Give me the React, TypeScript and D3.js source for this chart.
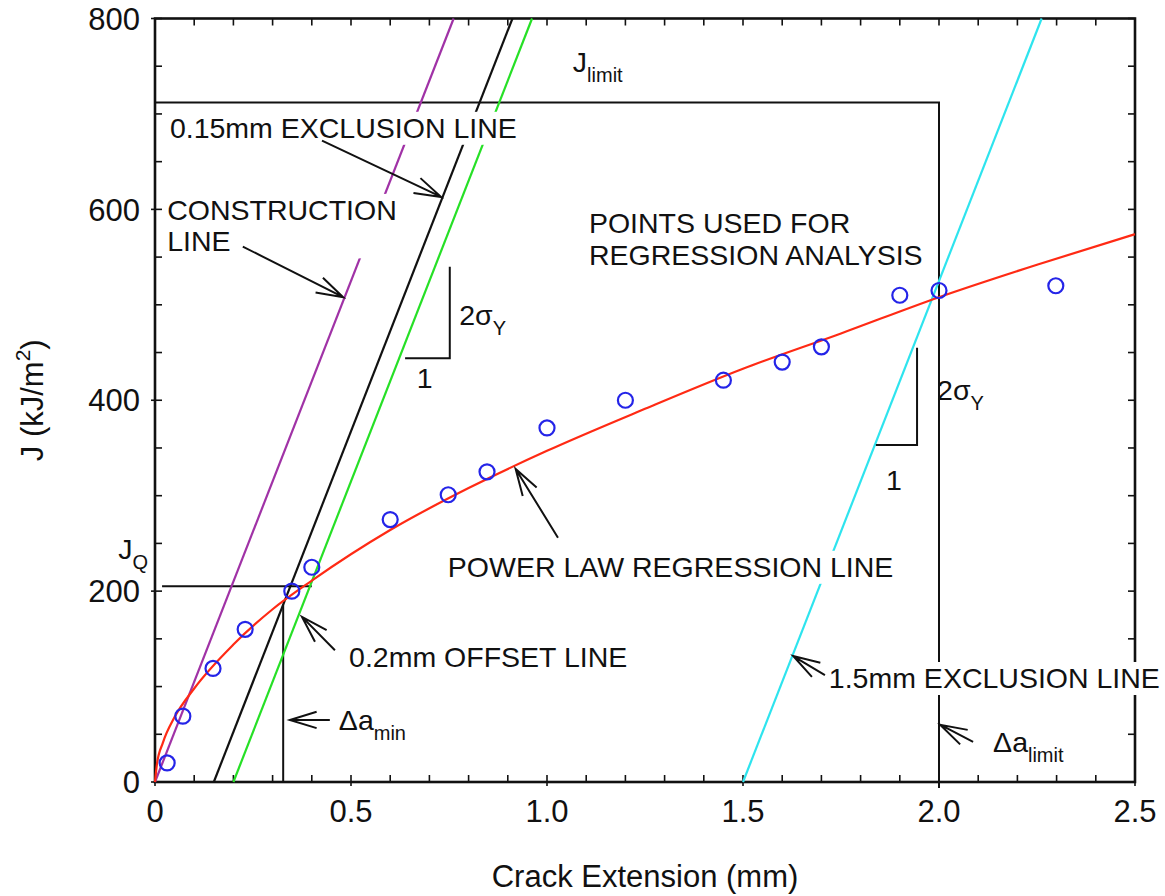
import { useEffect, useRef } from 'react';
import * as d3 from 'd3';

const W = 1165;
const H = 896;
const margin = { top: 18.5, right: 30, bottom: 114, left: 155 };
const FONT = '"Liberation Sans", Arial, Helvetica, sans-serif';

// measured points (crack extension mm, J kJ/m2)
const crackExt = [0.031, 0.071, 0.148, 0.23, 0.349, 0.4, 0.6, 0.748, 0.847, 1.0, 1.2, 1.45, 1.6, 1.7, 1.9, 2.0, 2.298];
const jValues = [20, 69, 119, 160, 200, 225, 275, 301, 325, 371, 400, 421, 440, 456, 510, 515, 520];

// power law regression line
const fitCrack = [0, 0.005, 0.02, 0.05, 0.1, 0.2, 0.3, 0.4, 0.6, 0.8, 1.0, 1.25, 1.5, 1.75, 2.0, 2.25, 2.5];
const fitJ = [0, 19, 41, 68, 98, 144, 181, 211, 264, 308, 347, 391, 433, 470, 508, 542, 574];

// lines with slope 2σY, starting on the crack extension axis
const offsetStart = [0, 0.15, 0.2, 1.5];
const offsetColors = ['#a032a6', '#111111', '#26e026', '#2ee4ee'];
const slope2SigmaY = 1050;

// limits
const jLimit = 712;
const daLimit = 2.0;
const jQ = 205;
const jQSpan = [0.018, 0.4];
const daMin = 0.327;
const jAtDaMin = 186;

// slope triangles [x0, x1, jBottom, jTop]
const triangles = [
  [0.638, 0.752, 444, 540],
  [1.839, 1.944, 353, 455],
];

const xTickValues = [0, 0.5, 1.0, 1.5, 2.0, 2.5];
const xTickLabels = ['0', '0.5', '1.0', '1.5', '2.0', '2.5'];
const yTickValues = [0, 200, 400, 600, 800];
const yTickLabels = ['0', '200', '400', '600', '800'];

type Part = { t: string; sub?: boolean };
type Label = { at: [number, number]; rows: Part[][]; box?: boolean };

const labels: Label[] = [
  { at: [0.038, 675], rows: [[{ t: '0.15mm EXCLUSION LINE' }]], box: true },
  { at: [0.031, 589], rows: [[{ t: 'CONSTRUCTION' }], [{ t: 'LINE' }]], box: true },
  { at: [1.066, 744], rows: [[{ t: 'J' }, { t: 'limit', sub: true }]] },
  { at: [1.107, 575], rows: [[{ t: 'POINTS USED FOR' }], [{ t: 'REGRESSION ANALYSIS' }]], box: true },
  { at: [0.747, 215], rows: [[{ t: 'POWER LAW REGRESSION LINE' }]], box: true },
  { at: [0.495, 120.5], rows: [[{ t: '0.2mm OFFSET LINE' }]], box: true },
  { at: [0.469, 54.5], rows: [[{ t: 'Δa' }, { t: 'min', sub: true }]] },
  { at: [1.719, 98.5], rows: [[{ t: '1.5mm EXCLUSION LINE' }]], box: true },
  { at: [2.138, 31.4], rows: [[{ t: 'Δa' }, { t: 'limit', sub: true }]] },
  { at: [-0.094, 234], rows: [[{ t: 'J' }, { t: 'Q', sub: true }]] },
  { at: [0.776, 479], rows: [[{ t: '2σ' }, { t: 'Y', sub: true }]] },
  { at: [0.668, 413], rows: [[{ t: '1' }]] },
  { at: [1.995, 400], rows: [[{ t: '2σ' }, { t: 'Y', sub: true }]] },
  { at: [1.865, 306], rows: [[{ t: '1' }]] },
];

// arrows: tail -> tip, in data units
const arrows: [number, number, number, number][] = [
  [0.426, 672, 0.73, 613],
  [0.224, 561, 0.48, 508],
  [1.028, 256, 0.92, 328],
  [0.459, 138, 0.375, 173],
  [0.446, 65, 0.344, 65],
  [1.709, 112, 1.628, 132],
  [2.087, 42, 2.003, 60],
];

export default function App() {
  const svgRef = useRef<SVGSVGElement>(null);

  useEffect(() => {
    const svg = d3.select(svgRef.current);
    svg.selectAll('*').remove();

    const iw = W - margin.left - margin.right;
    const ih = H - margin.top - margin.bottom;
    const x = d3.scaleLinear().domain([0, 2.5]).range([0, iw]);
    const y = d3.scaleLinear().domain([0, 800]).range([ih, 0]);

    svg.append('rect').attr('width', W).attr('height', H).attr('fill', '#fff');
    const g = svg.append('g').attr('transform', `translate(${margin.left},${margin.top})`);

    // ticks on all four sides
    const ticks = g.append('g').attr('stroke', '#111').attr('stroke-width', 1.6);
    x.ticks(25).forEach(v => {
      const major = Math.abs(v * 2 - Math.round(v * 2)) < 1e-6;
      ticks.append('line').attr('x1', x(v)).attr('x2', x(v)).attr('y1', ih + (major ? 4 : 0)).attr('y2', ih - 7);
      ticks.append('line').attr('x1', x(v)).attr('x2', x(v)).attr('y1', 0).attr('y2', 7);
    });
    y.ticks(16).forEach(v => {
      const major = v % 200 === 0;
      ticks.append('line').attr('y1', y(v)).attr('y2', y(v)).attr('x1', major ? -4 : 0).attr('x2', 7);
      ticks.append('line').attr('y1', y(v)).attr('y2', y(v)).attr('x1', iw).attr('x2', iw - 7);
    });

    // frame
    g.append('rect').attr('width', iw).attr('height', ih)
      .attr('fill', 'none').attr('stroke', '#111').attr('stroke-width', 2.6);

    // tick labels
    xTickValues.forEach((v, i) => {
      g.append('text').attr('x', x(v)).attr('y', ih + 40)
        .attr('text-anchor', 'middle').attr('font-family', FONT).attr('font-size', 31).attr('fill', '#111')
        .text(xTickLabels[i]);
    });
    yTickValues.forEach((v, i) => {
      g.append('text').attr('x', -15).attr('y', y(v)).attr('dy', '0.36em')
        .attr('text-anchor', 'end').attr('font-family', FONT).attr('font-size', 31).attr('fill', '#111')
        .text(yTickLabels[i]);
    });

    // axis titles
    g.append('text').attr('x', iw / 2).attr('y', ih + 105)
      .attr('text-anchor', 'middle').attr('font-family', FONT).attr('font-size', 31).attr('fill', '#111')
      .text('Crack Extension (mm)');
    const yt = svg.append('text')
      .attr('transform', `translate(43,${margin.top + ih / 2}) rotate(-90)`)
      .attr('text-anchor', 'middle').attr('font-family', FONT).attr('font-size', 31).attr('fill', '#111');
    yt.append('tspan').text('J (kJ/m');
    yt.append('tspan').attr('font-size', 21).attr('dy', -13).text('2');
    yt.append('tspan').attr('dy', 13).text(')');

    const black = '#111';

    // J limit and Δa limit
    g.append('path')
      .attr('d', `M${x(0)},${y(jLimit)}H${x(daLimit)}V${ih + 6}`)
      .attr('fill', 'none').attr('stroke', black).attr('stroke-width', 2);
    // JQ and Δa min
    g.append('line').attr('x1', x(jQSpan[0])).attr('x2', x(jQSpan[1])).attr('y1', y(jQ)).attr('y2', y(jQ))
      .attr('stroke', black).attr('stroke-width', 2);
    g.append('line').attr('x1', x(daMin)).attr('x2', x(daMin)).attr('y1', y(0)).attr('y2', y(jAtDaMin))
      .attr('stroke', black).attr('stroke-width', 2);

    // construction, exclusion and offset lines
    offsetStart.forEach((s, i) => {
      g.append('line')
        .attr('x1', x(s)).attr('y1', y(0))
        .attr('x2', x(s + 800 / slope2SigmaY)).attr('y2', y(800))
        .attr('stroke', offsetColors[i]).attr('stroke-width', 2.2);
    });

    // power law regression line
    const fit = fitCrack.map((c, i) => [c, fitJ[i]] as [number, number]);
    g.append('path').datum(fit)
      .attr('d', d3.line<[number, number]>().x(d => x(d[0])).y(d => y(d[1])).curve(d3.curveMonotoneX))
      .attr('fill', 'none').attr('stroke', '#ff2a14').attr('stroke-width', 2.2);

    // measured points
    g.append('g').selectAll('circle')
      .data(crackExt.map((c, i) => [c, jValues[i]]))
      .join('circle')
      .attr('cx', d => x(d[0])).attr('cy', d => y(d[1])).attr('r', 7.5)
      .attr('fill', 'none').attr('stroke', '#2424e8').attr('stroke-width', 2.2);

    // slope triangles
    triangles.forEach(([x0, x1, jb, jt]) => {
      g.append('path')
        .attr('d', `M${x(x0)},${y(jb)}H${x(x1)}V${y(jt)}`)
        .attr('fill', 'none').attr('stroke', black).attr('stroke-width', 2);
    });

    // labels
    labels.forEach(lab => {
      const lg = g.append('g').attr('transform', `translate(${x(lab.at[0])},${y(lab.at[1])})`);
      lab.rows.forEach((row, ri) => {
        const t = lg.append('text').attr('x', 0).attr('y', ri * 31.5)
          .attr('font-family', FONT).attr('font-size', 28.5).attr('fill', '#111');
        row.forEach(p => {
          if (p.sub) t.append('tspan').attr('font-size', 20).attr('dy', 10).text(p.t);
          else t.append('tspan').text(p.t);
        });
      });
      if (lab.box) {
        const bb = (lg.node() as SVGGElement).getBBox();
        lg.insert('rect', ':first-child')
          .attr('x', bb.x - 3).attr('y', bb.y).attr('width', bb.width + 6).attr('height', bb.height + 1)
          .attr('fill', '#fff');
      }
    });

    // arrows with open heads
    arrows.forEach(([x0, j0, x1, j1]) => {
      const ax = x(x0), ay = y(j0), bx = x(x1), by = y(j1);
      const ang = Math.atan2(ay - by, ax - bx);
      const len = 28, spread = (17 * Math.PI) / 180;
      const h1 = [bx + len * Math.cos(ang + spread), by + len * Math.sin(ang + spread)];
      const h2 = [bx + len * Math.cos(ang - spread), by + len * Math.sin(ang - spread)];
      g.append('path')
        .attr('d', `M${ax},${ay}L${bx},${by}M${h1[0]},${h1[1]}L${bx},${by}L${h2[0]},${h2[1]}`)
        .attr('fill', 'none').attr('stroke', black).attr('stroke-width', 2);
    });
  }, []);

  return (
    <svg
      ref={svgRef}
      width={W}
      height={H}
      style={{ position: 'absolute', left: 0, top: 0 }}
    />
  );
}
